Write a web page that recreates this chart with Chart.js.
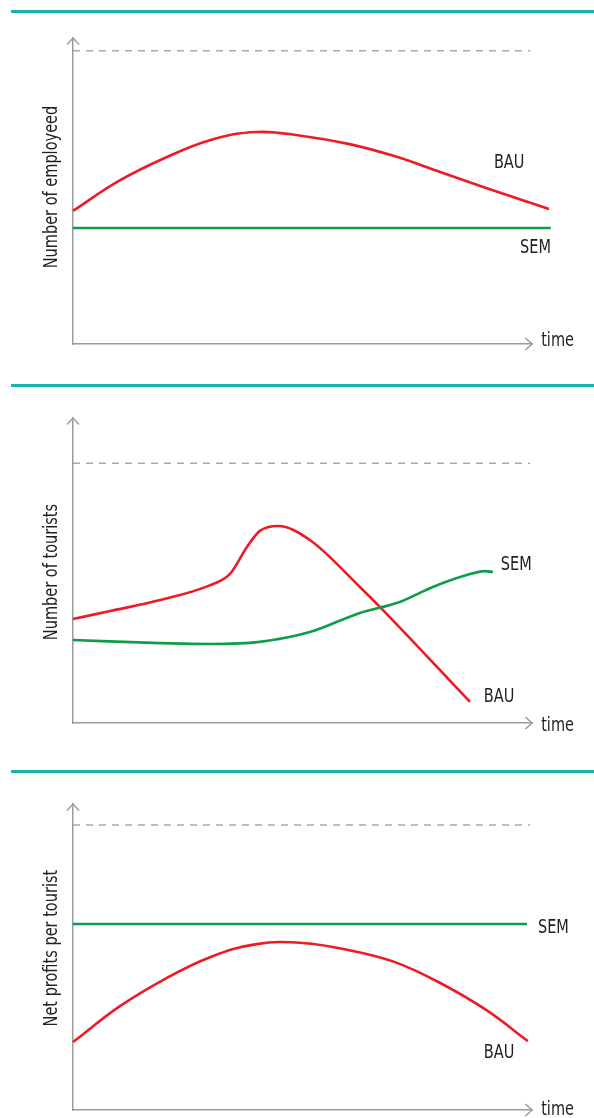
<!DOCTYPE html>
<html>
<head>
<meta charset="utf-8">
<script src="https://cdn.jsdelivr.net/npm/chart.js@4.4.1/dist/chart.umd.min.js"></script>
<style>
  body { margin: 0; background: #fff; width: 594px; height: 1118px; position: relative; overflow: hidden; }
  .rule { position: absolute; left: 11px; right: 0; height: 3px; background: #17b3ad; }
  .panel { position: absolute; left: 0; width: 594px; }
  canvas { display: block; }
</style>
</head>
<body>
<div class="rule" style="top:10px"></div>
<div class="rule" style="top:384px"></div>
<div class="rule" style="top:770px"></div>

<div class="panel" style="top:0px"><canvas id="c1" width="594" height="375"></canvas></div>
<div class="panel" style="top:375px"><canvas id="c2" width="594" height="385"></canvas></div>
<div class="panel" style="top:760px"><canvas id="c3" width="594" height="358"></canvas></div>

<script>
// ---- Number of employed ----
const empBAUx = [0, 10, 20, 30, 40, 50, 60, 70, 80, 90, 103.7];
const empBAUy = [43.5, 53.3, 60.8, 66.7, 69.3, 68.0, 65.4, 61.4, 56.2, 51.0, 44.1];
const empSEMx = [0, 104.1];
const empSEMy = [37.9, 37.9];
const empCapX = [0, 99.6];
const empCapY = [95.8, 95.8];

// ---- Number of tourists ----
const touBAUx = [0, 8.1, 19, 29.9, 34.2, 37.9, 40.7, 44.7, 51.6, 62.5, 66.9, 86.5];
const touBAUy = [34.1, 36.7, 40.3, 45.2, 48.9, 57.7, 63.0, 64.6, 60.0, 44.6, 38.0, 6.9];
const touSEMx = [0, 19, 29.9, 40.7, 51.6, 62.5, 71.2, 78.4, 85.8, 89.8, 91.5];
const touSEMy = [27.2, 26.2, 25.9, 26.6, 29.8, 36.1, 39.7, 44.6, 48.5, 49.8, 49.5];
const touCapX = [0, 99.6];
const touCapY = [85.2, 85.2];

// ---- Net profits per tourist ----
const proBAUx = [0, 10, 20, 30, 40, 50, 60, 70, 80, 90, 99.1];
const proBAUy = [22.2, 33.7, 42.8, 50.0, 54.2, 54.6, 52.3, 48.4, 41.5, 32.7, 22.5];
const proSEMx = [0, 98.9];
const proSEMy = [60.8, 60.8];
const proCapX = [0, 99.6];
const proCapY = [93.1, 93.1];

// Axis titles and series labels
const yTitles = ['Number of employeed', 'Number of tourists', 'Net profits per tourist'];
const xTitle = 'time';
const seriesNames = ['BAU', 'SEM'];

const RED = '#ed1c24';
const GREEN = '#0b9e47';
const AXIS = '#9b9b9b';
const DASH = '#a9a9a9';
const INK = '#231f20';
const FONT = '"Liberation Sans Narrow", "DejaVu Sans Condensed", "Arial Narrow", "Roboto Condensed", sans-serif';
const SQUASH = 0.85;   // narrow the lettering horizontally

function pts(xs, ys) { return xs.map((x, i) => ({ x: x, y: ys[i] })); }

function narrowText(ctx, text, x, y) {
  ctx.save();
  ctx.translate(x, y);
  ctx.scale(SQUASH, 1);
  ctx.fillText(text, 0, 0);
  ctx.restore();
}

// Arrowheads, axis titles and in-plot series labels
const sketchDecor = {
  id: 'sketchDecor',
  afterDraw(chart, args, opts) {
    const { ctx, chartArea, scales } = chart;
    const xs = scales.x, ys = scales.y;
    ctx.save();
    ctx.strokeStyle = AXIS;
    ctx.lineWidth = 1.5;
    // y arrow
    const ax = xs.getPixelForValue(0), top = chartArea.top;
    ctx.beginPath();
    ctx.moveTo(ax - 6, top + 6.5); ctx.lineTo(ax, top); ctx.lineTo(ax + 6, top + 6.5);
    ctx.stroke();
    // x arrow
    const bx = chartArea.right, by = ys.getPixelForValue(0);
    ctx.beginPath();
    ctx.moveTo(bx - 6.5, by - 6); ctx.lineTo(bx, by); ctx.lineTo(bx - 6.5, by + 6);
    ctx.stroke();

    ctx.fillStyle = INK;
    ctx.font = '19px ' + FONT;
    // y title
    ctx.save();
    ctx.translate(52, ys.getPixelForValue(opts.yTitleAt));
    ctx.rotate(-Math.PI / 2);
    ctx.textAlign = 'center';
    ctx.textBaseline = 'middle';
    narrowText(ctx, opts.yTitle, 0, 0);
    ctx.restore();
    // labels
    ctx.textAlign = 'left';
    ctx.textBaseline = 'middle';
    opts.labels.forEach(l => {
      narrowText(ctx, l.text, xs.getPixelForValue(l.x), ys.getPixelForValue(l.y));
    });
    ctx.restore();
  }
};

function makeChart(id, pad, series, decor, bauCurve) {
  const datasets = [
    { data: series.cap, borderColor: DASH, borderWidth: 1.5, borderDash: [7, 6] },
    { data: series.sem, borderColor: GREEN, borderWidth: 2.6, cubicInterpolationMode: 'monotone' },
    Object.assign({ data: series.bau, borderColor: RED, borderWidth: 2.6 }, bauCurve)
  ].map(d => Object.assign({ pointRadius: 0, fill: false, clip: false }, d));

  const hiddenAxis = () => ({
    type: 'linear', min: 0, max: 100,
    grid: { display: false, drawTicks: false },
    ticks: { display: false },
    title: { display: false },
    border: { display: true, color: AXIS, width: 1.5 }
  });

  return new Chart(document.getElementById(id), {
    type: 'line',
    data: { datasets: datasets },
    options: {
      responsive: false,
      animation: false,
      devicePixelRatio: 1,
      layout: { padding: pad },
      plugins: {
        legend: { display: false },
        tooltip: { enabled: false },
        sketchDecor: decor
      },
      scales: { x: hiddenAxis(), y: hiddenAxis() }
    },
    plugins: [sketchDecor]
  });
}

makeChart('c1', { left: 73, right: 62, top: 38, bottom: 31 },
  { bau: pts(empBAUx, empBAUy), sem: pts(empSEMx, empSEMy), cap: pts(empCapX, empCapY) },
  { yTitle: yTitles[0], yTitleAt: 51.3,
    labels: [
      { text: seriesNames[0], x: 91.7, y: 59.2 },
      { text: seriesNames[1], x: 97.4, y: 31.4 },
      { text: xTitle, x: 102, y: 1 }
    ] },
  { tension: 0.4 });

makeChart('c2', { left: 73, right: 62, top: 43, bottom: 37 },
  { bau: pts(touBAUx, touBAUy), sem: pts(touSEMx, touSEMy), cap: pts(touCapX, touCapY) },
  { yTitle: yTitles[1], yTitleAt: 49.5,
    labels: [
      { text: seriesNames[1], x: 93.2, y: 51.8 },
      { text: seriesNames[0], x: 89.5, y: 8.5 },
      { text: xTitle, x: 102, y: -1 }
    ] },
  { cubicInterpolationMode: 'monotone' });

makeChart('c3', { left: 73, right: 62, top: 44, bottom: 8 },
  { bau: pts(proBAUx, proBAUy), sem: pts(proSEMx, proSEMy), cap: pts(proCapX, proCapY) },
  { yTitle: yTitles[2], yTitleAt: 52.9,
    labels: [
      { text: seriesNames[1], x: 101.3, y: 59.5 },
      { text: seriesNames[0], x: 89.5, y: 18.6 },
      { text: xTitle, x: 102, y: 0 }
    ] },
  { tension: 0.4 });
</script>
</body>
</html>
